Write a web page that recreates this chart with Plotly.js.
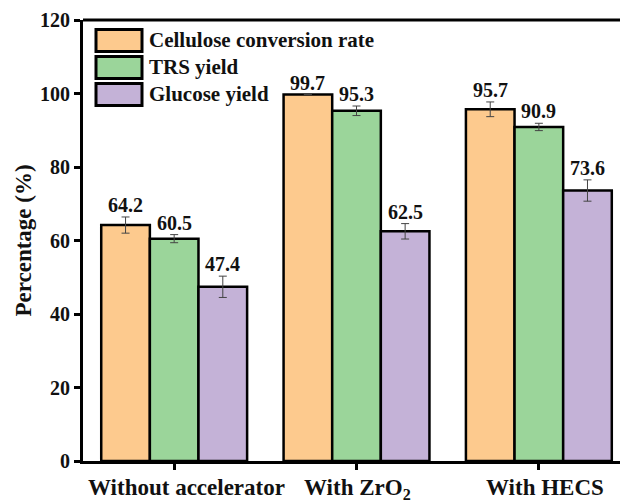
<!DOCTYPE html>
<html>
<head>
<meta charset="utf-8">
<script src="https://cdn.plot.ly/plotly-3.0.1.min.js"></script>
<style>
html,body{margin:0;padding:0;background:#fff;}
#chart{width:620px;height:503px;}
#chart svg text{font-family:'Liberation Serif','Times New Roman',serif !important;font-weight:bold !important;}
</style>
</head>
<body>
<div id="chart"></div>
<script>
// ---- data ----
var categories = ["Without accelerator", "With ZrO<sub>2</sub>", "With HECS"];
var seriesNames = ["Cellulose conversion rate", "TRS yield", "Glucose yield"];
var celluloseConversion = [64.2, 99.7, 95.7];
var celluloseErr = [2.2, 0, 2.0];
var trsYield = [60.5, 95.3, 90.9];
var trsErr = [1.1, 1.3, 1.0];
var glucoseYield = [47.4, 62.5, 73.6];
var glucoseErr = [2.9, 2.1, 2.9];
var yTicks = [0, 20, 40, 60, 80, 100, 120];

// ---- styles ----
var colors = ["#FDCA8E", "#9BD59A", "#C4B2D7"];
var FONT = "Liberation Serif";
var catShift = [12, 1, 6];   // label offsets in px (as placed in the original figure)
var values = [celluloseConversion, trsYield, glucoseYield];
var errs = [celluloseErr, trsErr, glucoseErr];

var idx = categories.map(function (c, i) { return i; });
var traces = values.map(function (v, s) {
  return {
    type: "bar",
    name: seriesNames[s],
    x: idx,
    y: v,
    marker: { color: colors[s], line: { color: "#000", width: 2.5 } },
    error_y: { type: "data", array: errs[s], visible: true, color: "#444", thickness: 1, width: 4 },
    showlegend: false,
    hoverinfo: "y"
  };
});

var barW = (1 - 0.2) / 3;
var annotations = [];
values.forEach(function (v, s) {
  v.forEach(function (val, i) {
    annotations.push({
      x: i + (s - 1) * barW, y: val + errs[s][i], xref: "x", yref: "y",
      text: "<b>" + val.toFixed(1) + "</b>", showarrow: false, yanchor: "bottom", yshift: -1,
      font: { family: FONT, size: 20, color: "#111" }
    });
  });
});

// category labels under the axis
categories.forEach(function (c, i) {
  annotations.push({
    x: i, y: 0, xref: "x", yref: "paper", xanchor: "center", yanchor: "top",
    xshift: catShift[i], yshift: -12, showarrow: false,
    text: "<b>" + c + "</b>",
    font: { family: FONT, size: 23, color: "#111" }
  });
});

// legend drawn as boxes + labels
var shapes = [{
  type: "line", xref: "paper", yref: "paper", x0: 0, x1: 1, y0: 1, y1: 1,
  line: { color: "#000", width: 3 }
}];
var legTop = [29, 56, 83]; // pixel rows
var H = 503, T = 19.5, B = 42, plotH = H - T - B;
var L = 83, W = 620, plotW = W - L;
function py(p) { return 1 - (p - T) / plotH; }
function px(p) { return (p - L) / plotW; }
seriesNames.forEach(function (n, s) {
  shapes.push({
    type: "rect", xref: "paper", yref: "paper",
    x0: px(96), x1: px(142), y0: py(legTop[s]), y1: py(legTop[s] + 22),
    fillcolor: colors[s], line: { color: "#000", width: 3 }
  });
  annotations.push({
    xref: "paper", yref: "paper", x: px(147), y: py(legTop[s] + 11),
    xanchor: "left", yanchor: "middle", showarrow: false, text: "<b>" + n + "</b>",
    font: { family: FONT, size: 21, color: "#111" }
  });
});

var boldY = yTicks.map(function (t) { return "<b>" + t + "</b>"; });

var layout = {
  width: 620, height: 503,
  margin: { l: L, r: 0, t: T, b: B, pad: 0 },
  paper_bgcolor: "#fff", plot_bgcolor: "#fff",
  font: { family: FONT, size: 18, color: "#111" },
  barmode: "group", bargap: 0.2, bargroupgap: 0,
  xaxis: {
    type: "linear",
    range: [-0.5, 2.445],
    tickmode: "array", tickvals: idx, showticklabels: false,
    showline: true, linecolor: "#000", linewidth: 3,
    ticks: "outside", ticklen: 6, tickwidth: 3, tickcolor: "#000",
    showgrid: false, zeroline: false
  },
  yaxis: {
    range: [0, 120],
    tickmode: "array", tickvals: yTicks, ticktext: boldY,
    showline: true, linecolor: "#000", linewidth: 3,
    ticks: "outside", ticklen: 6, tickwidth: 3, tickcolor: "#000",
    showgrid: false, zeroline: false,
    tickfont: { family: FONT, size: 20, color: "#111" },
    title: { text: "<b>Percentage (%)</b>", standoff: 2, font: { family: FONT, size: 23, color: "#111" } }
  },
  shapes: shapes,
  annotations: annotations,
  showlegend: false
};

Plotly.newPlot("chart", traces, layout, { displayModeBar: false, staticPlot: true });
</script>
</body>
</html>
